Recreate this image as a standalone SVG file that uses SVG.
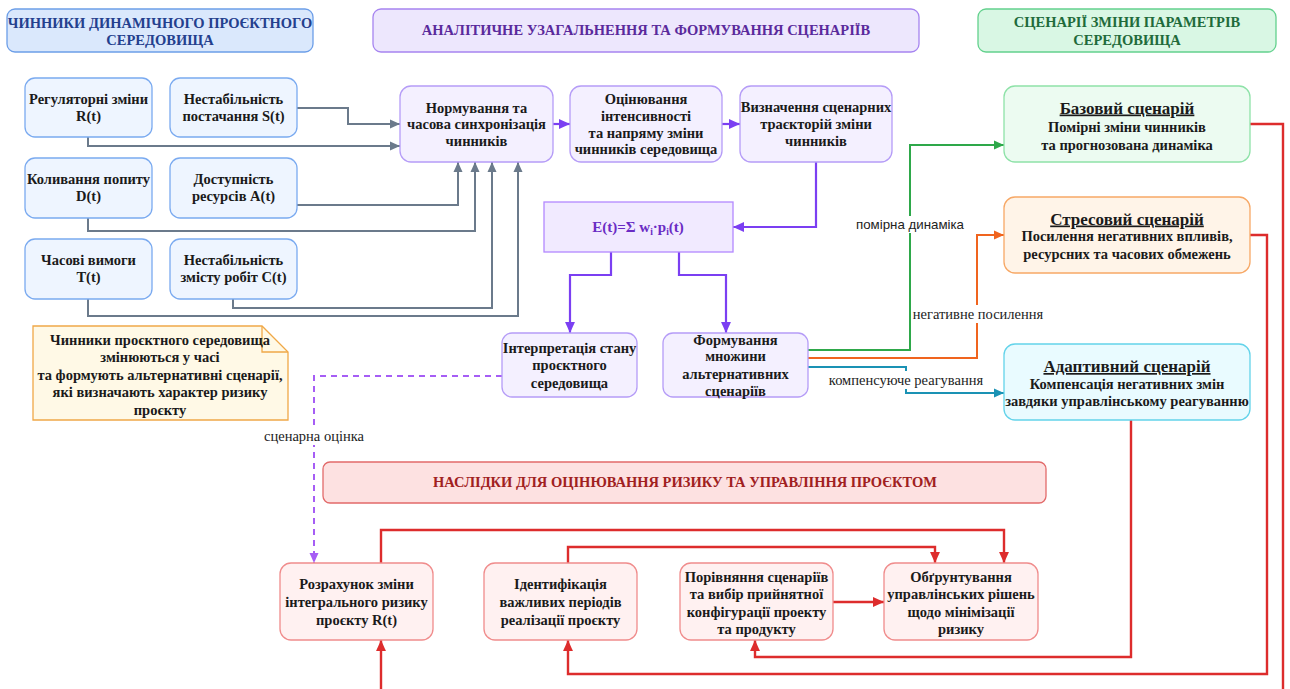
<svg xmlns="http://www.w3.org/2000/svg" width="1290" height="689" viewBox="0 0 1290 689">
  <style>
    text { font-family: "Liberation Serif", "Times New Roman", serif; fill: #1a1a1a; }
    .t { font-size: 14.5px; font-weight: bold; text-anchor: middle; }
    .hdr { font-size: 14.5px; font-weight: bold; text-anchor: middle; }
    .ttl { font-size: 17px; font-weight: bold; text-anchor: middle; text-decoration: underline; }
    .sub { font-size: 14.5px; font-weight: bold; text-anchor: middle; }
    .lbl { font-size: 14.5px; text-anchor: middle; fill: #222; }
    .lbls { font-family: "Liberation Sans", Arial, sans-serif; font-size: 13.3px; text-anchor: middle; fill: #222; }
    .factor { fill: #eef5ff; stroke: #7aaaf0; stroke-width: 1.3; }
    .proc { fill: #f4f0ff; stroke: #b59cf7; stroke-width: 1.3; }
    .risk { fill: #fff1f1; stroke: #f08c8c; stroke-width: 1.3; }
    .c-gray { fill: none; stroke: #6b7a8b; stroke-width: 2; }
    .c-purple { fill: none; stroke: #7b3ff2; stroke-width: 2.2; }
    .c-dash { fill: none; stroke: #a65df5; stroke-width: 2; stroke-dasharray: 6 5; }
    .c-green { fill: none; stroke: #2ea84a; stroke-width: 2; }
    .c-orange { fill: none; stroke: #f0641e; stroke-width: 2; }
    .c-blue { fill: none; stroke: #1a92b4; stroke-width: 2; }
    .c-red { fill: none; stroke: #dd2c2c; stroke-width: 2.4; }
    .lblbg { fill: #ffffff; }
  </style>
  <defs>
    <marker id="ah-gray" viewBox="0 0 10 10" refX="10" refY="5" markerWidth="10" markerHeight="10" markerUnits="userSpaceOnUse" orient="auto"><path d="M0,0.5 L10,5 L0,9.5 z" fill="#6b7a8b"/></marker>
    <marker id="ah-purple" viewBox="0 0 10 10" refX="10" refY="5" markerWidth="11" markerHeight="11" markerUnits="userSpaceOnUse" orient="auto"><path d="M0,0.5 L10,5 L0,9.5 z" fill="#7b3ff2"/></marker>
    <marker id="ah-dash" viewBox="0 0 10 10" refX="10" refY="5" markerWidth="10" markerHeight="10" markerUnits="userSpaceOnUse" orient="auto"><path d="M0,0.5 L10,5 L0,9.5 z" fill="#a65df5"/></marker>
    <marker id="ah-green" viewBox="0 0 10 10" refX="10" refY="5" markerWidth="10" markerHeight="10" markerUnits="userSpaceOnUse" orient="auto"><path d="M0,0.5 L10,5 L0,9.5 z" fill="#2ea84a"/></marker>
    <marker id="ah-orange" viewBox="0 0 10 10" refX="10" refY="5" markerWidth="10" markerHeight="10" markerUnits="userSpaceOnUse" orient="auto"><path d="M0,0.5 L10,5 L0,9.5 z" fill="#f0641e"/></marker>
    <marker id="ah-blue" viewBox="0 0 10 10" refX="10" refY="5" markerWidth="10" markerHeight="10" markerUnits="userSpaceOnUse" orient="auto"><path d="M0,0.5 L10,5 L0,9.5 z" fill="#1a92b4"/></marker>
    <marker id="ah-red" viewBox="0 0 10 10" refX="10" refY="5" markerWidth="11" markerHeight="11" markerUnits="userSpaceOnUse" orient="auto"><path d="M0,0.5 L10,5 L0,9.5 z" fill="#dd2c2c"/></marker>
  </defs>

  <rect width="1290" height="689" fill="#ffffff"/>

  <!-- connectors -->
  <g id="connectors">
    <!-- factors into normalisation -->
    <path class="c-gray" d="M297,108 H348 V124 H400" marker-end="url(#ah-gray)"/>
    <path class="c-gray" d="M88,137 V146 H400" marker-end="url(#ah-gray)"/>
    <path class="c-gray" d="M297,205 H458 V162" marker-end="url(#ah-gray)"/>
    <path class="c-gray" d="M88,218 V231 H475 V162" marker-end="url(#ah-gray)"/>
    <path class="c-gray" d="M233,299 V308 H492 V162" marker-end="url(#ah-gray)"/>
    <path class="c-gray" d="M88,299 V316 H518 V162" marker-end="url(#ah-gray)"/>

    <!-- analytical chain -->
    <path class="c-purple" d="M553,124 H570" marker-end="url(#ah-purple)"/>
    <path class="c-purple" d="M722,124 H740" marker-end="url(#ah-purple)"/>
    <path class="c-purple" d="M816,162 V227 H733" marker-end="url(#ah-purple)"/>
    <path class="c-purple" d="M611,252 V275 H570 V333" marker-end="url(#ah-purple)"/>
    <path class="c-purple" d="M679,252 V275 H726 V333" marker-end="url(#ah-purple)"/>

    <!-- scenario branches -->
    <path class="c-green" d="M808,350 H910 V145 H1004" marker-end="url(#ah-green)"/>
    <path class="c-orange" d="M808,358 H977 V235 H1004" marker-end="url(#ah-orange)"/>
    <path class="c-blue" d="M808,367 H906 V393 H1004" marker-end="url(#ah-blue)"/>

    <!-- scenario evaluation -->
    <path class="c-dash" d="M502,376 H314 V563" marker-end="url(#ah-dash)"/>

    <!-- consequences -->
    <path class="c-red" d="M1250,124 H1283 V700 H381 V640" marker-end="url(#ah-red)"/>
    <path class="c-red" d="M1250,235 H1267 V674 H568 V640" marker-end="url(#ah-red)"/>
    <path class="c-red" d="M1131,420 V657 H755 V640" marker-end="url(#ah-red)"/>
    <path class="c-red" d="M381,563 V530 H1004 V563" marker-end="url(#ah-red)"/>
    <path class="c-red" d="M568,563 V547 H935 V563" marker-end="url(#ah-red)"/>
    <path class="c-red" d="M833,602 H884" marker-end="url(#ah-red)"/>

    <!-- edge labels -->
    <rect class="lblbg" x="855" y="216" width="110" height="17"/>
    <text class="lbls" x="910" y="228.5">помірна динаміка</text>
    <rect class="lblbg" x="911" y="305" width="134" height="18"/>
    <text class="lbl" x="978" y="318.5">негативне посилення</text>
    <rect class="lblbg" x="827" y="371" width="158" height="18"/>
    <text class="lbl" x="906" y="384.5">компенсуюче реагування</text>
    <rect class="lblbg" x="263" y="427" width="102" height="18"/>
    <text class="lbl" x="314" y="440.5">сценарна оцінка</text>
  </g>

  <!-- section headers -->
  <g id="hdr-factors">
    <rect x="7" y="9" width="306" height="43" rx="8" fill="#dae8fc" stroke="#6c9ee8" stroke-width="1.3"/>
    <text class="hdr" x="160" y="27.5" style="fill:#24408e">ЧИННИКИ ДИНАМІЧНОГО ПРОЄКТНОГО</text>
    <text class="hdr" x="160" y="44.5" style="fill:#24408e">СЕРЕДОВИЩА</text>
  </g>
  <g id="hdr-analysis">
    <rect x="373" y="9" width="546" height="43" rx="8" fill="#ede7fd" stroke="#a684f0" stroke-width="1.3"/>
    <text class="hdr" x="646" y="34.5" style="fill:#5a2a9c">АНАЛІТИЧНЕ УЗАГАЛЬНЕННЯ ТА ФОРМУВАННЯ СЦЕНАРІЇВ</text>
  </g>
  <g id="hdr-scenarios">
    <rect x="978" y="9" width="298" height="43" rx="8" fill="#d9f7e4" stroke="#63d18d" stroke-width="1.3"/>
    <text class="hdr" x="1127" y="27" style="fill:#1f6b3b">СЦЕНАРІЇ ЗМІНИ ПАРАМЕТРІВ</text>
    <text class="hdr" x="1127" y="44.5" style="fill:#1f6b3b">СЕРЕДОВИЩА</text>
  </g>
  <g id="hdr-consequences">
    <rect x="323" y="462" width="723" height="41" rx="7" fill="#fde1e1" stroke="#e26a6a" stroke-width="1.3"/>
    <text class="hdr" x="685" y="487" style="fill:#a02020">НАСЛІДКИ ДЛЯ ОЦІНЮВАННЯ РИЗИКУ ТА УПРАВЛІННЯ ПРОЄКТОМ</text>
  </g>

  <!-- environment factors -->
  <g id="f-reg">
    <rect class="factor" x="25" y="78" width="127" height="59" rx="10"/>
    <text class="t" x="88.5" y="104">Регуляторні зміни</text>
    <text class="t" x="88.5" y="121">R(t)</text>
  </g>
  <g id="f-supply">
    <rect class="factor" x="170" y="78" width="127" height="59" rx="10"/>
    <text class="t" x="233.5" y="104">Нестабільність</text>
    <text class="t" x="233.5" y="121">постачання S(t)</text>
  </g>
  <g id="f-demand">
    <rect class="factor" x="25" y="158" width="127" height="60" rx="10"/>
    <text class="t" x="88.5" y="184">Коливання попиту</text>
    <text class="t" x="88.5" y="201">D(t)</text>
  </g>
  <g id="f-resources">
    <rect class="factor" x="170" y="158" width="127" height="60" rx="10"/>
    <text class="t" x="233.5" y="184">Доступність</text>
    <text class="t" x="233.5" y="201">ресурсів A(t)</text>
  </g>
  <g id="f-time">
    <rect class="factor" x="25" y="239" width="127" height="60" rx="10"/>
    <text class="t" x="88.5" y="264.5">Часові вимоги</text>
    <text class="t" x="88.5" y="282">T(t)</text>
  </g>
  <g id="f-content">
    <rect class="factor" x="170" y="239" width="127" height="60" rx="10"/>
    <text class="t" x="233.5" y="264.5">Нестабільність</text>
    <text class="t" x="233.5" y="282">змісту робіт C(t)</text>
  </g>

  <!-- analytical processing -->
  <g id="p-norm">
    <rect class="proc" x="400" y="86" width="153" height="76" rx="11"/>
    <text class="t" x="476.5" y="112.5">Нормування та</text>
    <text class="t" x="476.5" y="129">часова синхронізація</text>
    <text class="t" x="476.5" y="146">чинників</text>
  </g>
  <g id="p-eval">
    <rect class="proc" x="570" y="86" width="152" height="76" rx="11"/>
    <text class="t" x="646" y="104">Оцінювання</text>
    <text class="t" x="646" y="120.7">інтенсивності</text>
    <text class="t" x="646" y="137.5">та напряму зміни</text>
    <text class="t" x="646" y="154">чинників середовища</text>
  </g>
  <g id="p-traj">
    <rect class="proc" x="740" y="86" width="152" height="76" rx="11"/>
    <text class="t" x="816" y="112">Визначення сценарних</text>
    <text class="t" x="816" y="129">траєкторій зміни</text>
    <text class="t" x="816" y="146">чинників</text>
  </g>
  <g id="p-index">
    <rect x="544" y="202" width="189" height="50" fill="#f1eaff" stroke="#b388ff" stroke-width="1.3"/>
    <text x="638" y="232" style="font-size:15px;font-weight:bold;text-anchor:middle;fill:#6a2cc4">E(t)=Σ w<tspan font-size="9.5" dy="3">i</tspan><tspan dy="-3">·p</tspan><tspan font-size="9.5" dy="3">i</tspan><tspan dy="-3">(t)</tspan></text>
  </g>
  <g id="p-interp">
    <rect class="proc" x="502" y="333" width="135" height="64" rx="10"/>
    <text class="t" x="569.5" y="352.5">Інтерпретація стану</text>
    <text class="t" x="569.5" y="370">проєктного</text>
    <text class="t" x="569.5" y="387.5">середовища</text>
  </g>
  <g id="p-set">
    <rect class="proc" x="663" y="333" width="145" height="64" rx="10"/>
    <text class="t" x="735.5" y="344.5">Формування</text>
    <text class="t" x="735.5" y="361">множини</text>
    <text class="t" x="735.5" y="378.5">альтернативних</text>
    <text class="t" x="735.5" y="396">сценаріїв</text>
  </g>

  <!-- note -->
  <g id="note">
    <path d="M33,326 H262 L288,352 V420 H33 Z" fill="#fff9e6" stroke="#f0a848" stroke-width="1.3"/>
    <path d="M262,326 V352 H288" fill="none" stroke="#f0a848" stroke-width="1.3"/>
    <text class="t" x="160" y="344.5">Чинники проєктного середовища</text>
    <text class="t" x="160" y="362">змінюються у часі</text>
    <text class="t" x="160" y="379.5">та формують альтернативні сценарії,</text>
    <text class="t" x="160" y="397">які визначають характер ризику</text>
    <text class="t" x="160" y="414.5">проєкту</text>
  </g>

  <!-- scenarios -->
  <g id="s-base">
    <rect x="1004" y="86" width="246" height="76" rx="11" fill="#ecfbf1" stroke="#8ee2a8" stroke-width="1.3"/>
    <text class="ttl" x="1127" y="113.5">Базовий сценарій</text>
    <text class="sub" x="1127" y="131.5">Помірні зміни чинників</text>
    <text class="sub" x="1127" y="149.5">та прогнозована динаміка</text>
  </g>
  <g id="s-stress">
    <rect x="1004" y="197" width="246" height="76" rx="11" fill="#fff4e8" stroke="#f7a866" stroke-width="1.3"/>
    <text class="ttl" x="1127" y="224.5">Стресовий сценарій</text>
    <text class="sub" x="1127" y="241">Посилення негативних впливів,</text>
    <text class="sub" x="1127" y="258.5">ресурсних та часових обмежень</text>
  </g>
  <g id="s-adaptive">
    <rect x="1004" y="344" width="246" height="76" rx="11" fill="#e9fbff" stroke="#63d3ea" stroke-width="1.3"/>
    <text class="ttl" x="1127" y="372">Адаптивний сценарій</text>
    <text class="sub" x="1127" y="388.5">Компенсація негативних змін</text>
    <text class="sub" x="1127" y="406">завдяки управлінському реагуванню</text>
  </g>

  <!-- risk and management outcomes -->
  <g id="r-calc">
    <rect class="risk" x="280" y="563" width="153" height="77" rx="11"/>
    <text class="t" x="356.5" y="588.5">Розрахунок зміни</text>
    <text class="t" x="356.5" y="606.5">інтегрального ризику</text>
    <text class="t" x="356.5" y="624.5">проєкту R(t)</text>
  </g>
  <g id="r-periods">
    <rect class="risk" x="484" y="563" width="153" height="77" rx="11"/>
    <text class="t" x="560.5" y="588.5">Ідентифікація</text>
    <text class="t" x="560.5" y="606.5">важливих періодів</text>
    <text class="t" x="560.5" y="624.5">реалізації проєкту</text>
  </g>
  <g id="r-compare">
    <rect class="risk" x="680" y="563" width="153" height="77" rx="11"/>
    <text class="t" x="756.5" y="581.5">Порівняння сценаріїв</text>
    <text class="t" x="756.5" y="598.5">та вибір прийнятної</text>
    <text class="t" x="756.5" y="616.5">конфігурації проекту</text>
    <text class="t" x="756.5" y="633.5">та продукту</text>
  </g>
  <g id="r-decisions">
    <rect class="risk" x="884" y="563" width="154" height="77" rx="11"/>
    <text class="t" x="961" y="581.5">Обґрунтування</text>
    <text class="t" x="961" y="598.5">управлінських рішень</text>
    <text class="t" x="961" y="616.5">щодо мінімізації</text>
    <text class="t" x="961" y="633.5">ризику</text>
  </g>
</svg>
